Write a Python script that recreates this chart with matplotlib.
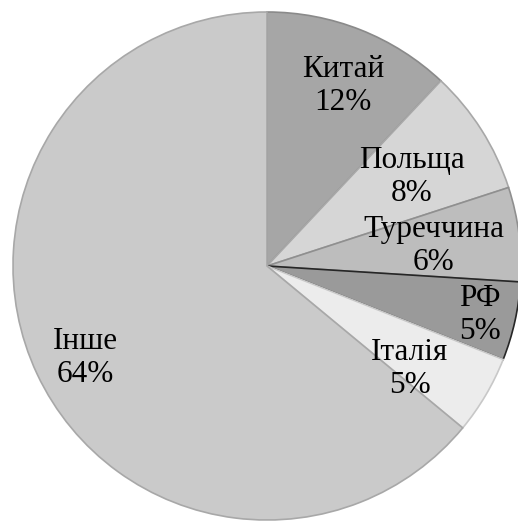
import matplotlib
matplotlib.use("Agg")
import matplotlib.pyplot as plt
import numpy as np

labels = ["Китай", "Польща", "Туреччина", "РФ", "Італія", "Інше"]
values = [12, 8, 6, 5, 5, 64]

colors = ["#a6a6a6", "#d6d6d6", "#bdbdbd", "#9a9a9a", "#ececec", "#cacaca"]
edges = ["#8a8a8a", "#a8a8a8", "#8f8f8f", "#262626", "#c8c8c8", "#a8a8a8"]
# label centre positions, pixels (layout)
label_px = [(343, 86), (412, 177), (434, 246), (480, 315), (410, 369), (85, 358)]

W, H = 518, 521
cx, cy, R = 267, 266, 254

fig = plt.figure(figsize=(W / 100, H / 100), dpi=100)
ax = fig.add_axes([0, 0, 1, 1])

wedges, _ = ax.pie(values, colors=colors, startangle=90, counterclock=False,
                   radius=1.0, center=(0, 0), frame=True,
                   wedgeprops=dict(linewidth=1.2))
for w, ec in zip(wedges, edges):
    w.set_edgecolor(ec)
ax.set_xlim(-cx / R, (W - cx) / R)
ax.set_ylim(-(H - cy) / R, cy / R)
ax.set_aspect("equal")
ax.axis("off")

for lab, v, (px, py) in zip(labels, values, label_px):
    x = (px - cx) / R
    y = (cy - py) / R
    ax.text(x, y, f"{lab}\n{v}%", ha="center", va="center",
            fontsize=22.5, family="Liberation Serif", linespacing=1.2,
            color="black")

fig.savefig("out.png", dpi=100)
